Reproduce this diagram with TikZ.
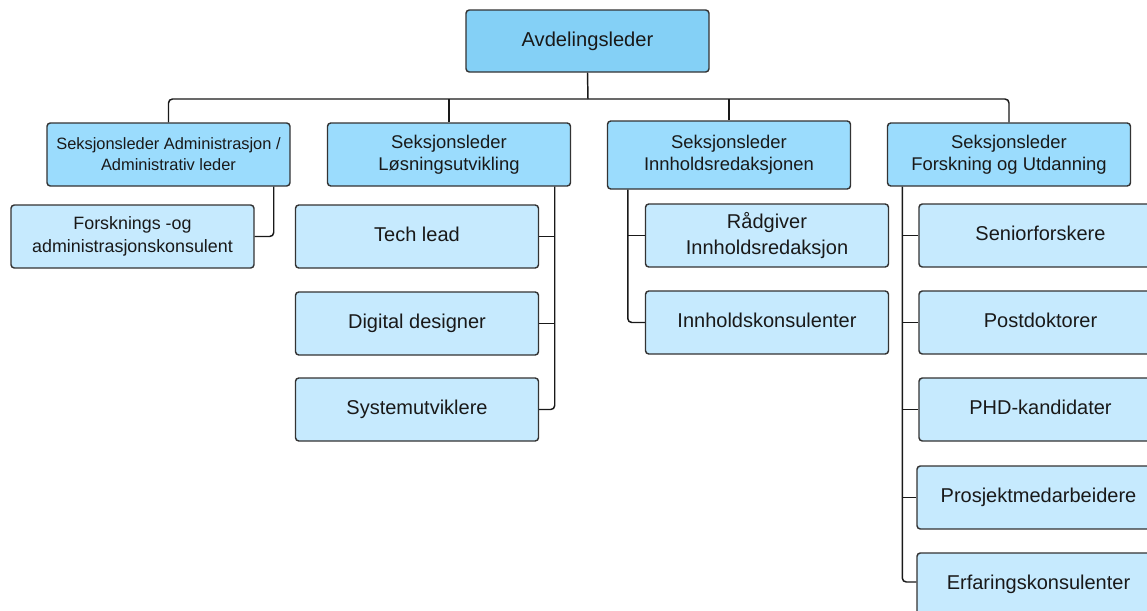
\documentclass[tikz,border=0pt]{standalone}
\usepackage{fontspec}
\setmainfont{Liberation Sans}
\usetikzlibrary{calc}
\definecolor{topfill}{HTML}{84D0F6}
\definecolor{headfill}{HTML}{9BDCFD}
\definecolor{childfill}{HTML}{C6EAFE}
\definecolor{boxline}{HTML}{333333}
\tikzset{
  box/.style={draw=boxline, line width=1.1pt, rounded corners=2.5pt, align=center,
    text=black!90, minimum width=182.25pt, minimum height=47.25pt, inner sep=2pt},
  topbox/.style={box, fill=topfill, minimum height=46.5pt, font=\fontsize{15.1}{18}\selectfont},
  headbox/.style={box, fill=headfill, font=\fontsize{13.8}{16.5}\selectfont},
  adminbox/.style={box, fill=headfill, font=\fontsize{12.3}{15.8}\selectfont},
  childbox/.style={box, fill=childfill, font=\fontsize{15}{18.8}\selectfont},
  rolebox/.style={childbox, text height=11pt, text depth=4pt},
  smallchild/.style={box, fill=childfill, font=\fontsize{13.4}{17.2}\selectfont},
  link/.style={draw=black!90, line width=1.1pt, rounded corners=3pt},
}
\begin{document}
\begin{tikzpicture}[x=0.75pt, y=-0.75pt]
\clip (0,0) rectangle (1147,611);

% department head
\node[topbox] (top) at (587.5,41) {Avdelingsleder};

% section heads
\node[adminbox] (admin) at (168.5,154.5) {Seksjonsleder Administrasjon /\\Administrativ leder};
\node[headbox] (losn) at (449,154.5) {Seksjonsleder\\Løsningsutvikling};
\node[headbox, minimum height=51pt] (innh) at (729,155) {Seksjonsleder\\Innholdsredaksjonen};
\node[headbox] (forsk) at (1009,154.5) {Seksjonsleder\\Forskning og Utdanning};

% administration
\node[smallchild] (fadm) at (132.5,236.5) {Forsknings -og\\administrasjonskonsulent};

% solution development
\node[rolebox] (tech) at (417,236.5) {Tech lead};
\node[rolebox] (digi) at (417,323.5) {Digital designer};
\node[rolebox] (syst) at (417,409.5) {Systemutviklere};

% content editorial
\node[childbox] (radg) at (767,235.5) {Rådgiver\\Innholdsredaksjon};
\node[rolebox] (ikon) at (767,322.5) {Innholdskonsulenter};

% research and education
\node[rolebox] (seni) at (1040.5,235.5) {Seniorforskere};
\node[rolebox] (post) at (1040.5,322.5) {Postdoktorer};
\node[rolebox] (phd)  at (1040.5,409.5) {PHD-kandidater};
\node[rolebox] (pros) at (1038.5,497.5) {Prosjektmedarbeidere};
\node[rolebox] (erfa) at (1038.5,584.5) {Erfaringskonsulenter};

% top-level bus
\coordinate (bus) at (588,99);
\draw[link] (top.south) -- (bus);
\draw[link] (admin.north) |- (bus) -| (forsk.north);
\draw[link] (losn.north) -- (losn.north |- bus);
\draw[link] (innh.north) -- (innh.north |- bus);

% administration branch
\coordinate (ax) at ($(admin.south east)+(-17,0)$);
\draw[link] (ax) |- (fadm.east);

% solution development branch
\coordinate (lx) at ($(losn.south east)+(-16.5,0)$);
\draw[link] (lx) |- (syst.east);
\draw[link] (tech.east) -- (tech.east -| lx);
\draw[link] (digi.east) -- (digi.east -| lx);

% content editorial branch
\coordinate (ix) at ($(innh.south west)+(21,0)$);
\draw[link] (ix) |- (ikon.west);
\draw[link] (radg.west) -- (radg.west -| ix);

% research and education branch
\coordinate (fx) at ($(forsk.south west)+(15.5,0)$);
\draw[link] (fx) |- ($(erfa.west)+(0,-2.5)$);
\draw[link] (seni.west) -- (seni.west -| fx);
\draw[link] (post.west) -- (post.west -| fx);
\draw[link] (phd.west) -- (phd.west -| fx);
\draw[link] (pros.west) -- (pros.west -| fx);
\end{tikzpicture}
\end{document}
